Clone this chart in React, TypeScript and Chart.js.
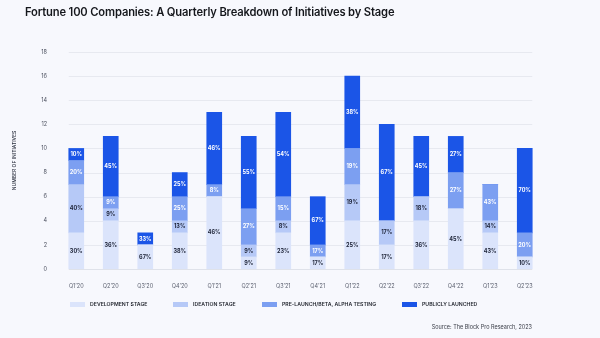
import React, { useEffect, useRef } from "react";
import { Chart, registerables } from "chart.js";

Chart.register(...registerables);

const quarters = ["Q1’20", "Q2’20", "Q3’20", "Q4’20", "Q1’21", "Q2’21", "Q3’21", "Q4’21", "Q1’22", "Q2’22", "Q3’22", "Q4’22", "Q1’23", "Q2’23"];
const development = [3, 4, 2, 3, 6, 1, 3, 1, 4, 2, 4, 5, 3, 1];
const ideation = [4, 1, 0, 1, 0, 1, 1, 0, 3, 2, 2, 0, 1, 0];
const preLaunch = [2, 1, 0, 2, 1, 3, 2, 1, 3, 0, 0, 3, 3, 2];
const launched = [1, 5, 1, 2, 6, 6, 7, 4, 6, 8, 5, 3, 0, 7];
const seriesNames = ["DEVELOPMENT STAGE", "IDEATION STAGE", "PRE-LAUNCH/BETA, ALPHA TESTING", "PUBLICLY LAUNCHED"];
const seriesColors = ["#dbe4fb", "#b6c9f7", "#7c9ff1", "#1b55e7"];
const labelColors = ["#1c2236", "#1c2236", "#ffffff", "#ffffff"];
const yMax = 18;
const yStep = 2;

const FONT = "Inter, 'DejaVu Sans', sans-serif";
const BG = "#f7f8fd";

const gridPlugin = {
  id: "customGrid",
  beforeDatasetsDraw(chart: any) {
    const ctx = chart.ctx;
    const yScale = chart.scales.y;
    const meta0 = chart.getDatasetMeta(0);
    const first = meta0.data[0];
    const last = meta0.data[meta0.data.length - 1];
    const x0 = first.x - first.width / 2;
    const x1 = last.x + last.width / 2;
    ctx.save();
    ctx.lineWidth = 1;
    yScale.ticks.forEach((t: any) => {
      const y = Math.round(yScale.getPixelForValue(t.value)) + 0.5;
      ctx.strokeStyle = t.value === 0 ? "#dfe2ea" : "#e7e9f0";
      ctx.beginPath();
      ctx.moveTo(x0, y);
      ctx.lineTo(x1, y);
      ctx.stroke();
    });
    ctx.restore();
  },
};

const pctPlugin = {
  id: "pctLabels",
  afterDatasetsDraw(chart: any) {
    const ctx = chart.ctx;
    const n = quarters.length;
    const all = [development, ideation, preLaunch, launched];
    ctx.save();
    ctx.font = `700 5.5px ${FONT}`;
    ctx.textAlign = "center";
    ctx.textBaseline = "middle";
    for (let d = 0; d < all.length; d++) {
      const meta = chart.getDatasetMeta(d);
      for (let i = 0; i < n; i++) {
        const v = all[d][i];
        if (!v) continue;
        const total = all.reduce((s, arr) => s + arr[i], 0);
        const el = meta.data[i];
        const yc = (el.y + el.base) / 2;
        ctx.fillStyle = labelColors[d];
        ctx.fillText(Math.round((v / total) * 100) + "%", el.x, yc);
      }
    }
    ctx.restore();
  },
};

export default function App() {
  const ref = useRef<HTMLCanvasElement>(null);
  useEffect(() => {
    document.body.style.margin = "0";
    document.body.style.background = BG;
    const data = [development, ideation, preLaunch, launched];
    const chart = new Chart(ref.current as HTMLCanvasElement, {
      type: "bar",
      data: {
        labels: quarters,
        datasets: data.map((arr, i) => ({
          label: seriesNames[i],
          data: arr,
          backgroundColor: seriesColors[i],
          borderWidth: 0,
          barThickness: 15,
        })),
      },
      options: {
        animation: false,
        responsive: false,
        maintainAspectRatio: false,
        layout: { padding: { left: 0, top: 52, right: 58, bottom: 49 } },
        plugins: {
          legend: { display: false },
          tooltip: { enabled: false },
          title: { display: false },
        },
        scales: {
          x: {
            stacked: true,
            offset: true,
            grid: { display: false },
            border: { display: false },
            ticks: {
              font: { family: FONT, size: 5.5 },
              color: "#5a5f6e",
              padding: 6,
              maxRotation: 0,
            },
            afterFit: (s: any) => {
              s.height = 20;
            },
          },
          y: {
            stacked: true,
            min: 0,
            max: yMax,
            grid: { display: false },
            border: { display: false },
            ticks: {
              stepSize: yStep,
              font: { family: FONT, size: 5.5 },
              color: "#4a4f5e",
              padding: 4,
            },
            title: {
              display: true,
              text: "NUMBER OF INITIATIVES",
              font: { family: FONT, size: 5, weight: "500" },
              color: "#2a2f3e",
              padding: { top: 11, bottom: 0 },
            },
            afterFit: (s: any) => {
              s.width = 59;
            },
          },
        },
      },
      plugins: [gridPlugin, pctPlugin],
    });
    return () => chart.destroy();
  }, []);

  const legendX = [70, 173, 262, 402];
  return (
    <div style={{ position: "relative", width: 600, height: 338, background: BG, fontFamily: FONT, overflow: "hidden" }}>
      <canvas ref={ref} width={600} height={338} style={{ position: "absolute", left: 0, top: 0 }} />
      <div style={{ position: "absolute", left: 25, top: 5, fontSize: 11.2, fontWeight: 600, color: "#15171c", letterSpacing: -0.15, whiteSpace: "nowrap" }}>
        Fortune 100 Companies: A Quarterly Breakdown of Initiatives by Stage
      </div>
      {seriesNames.map((name, i) => (
        <div key={name} style={{ position: "absolute", left: legendX[i], top: 300, display: "flex", alignItems: "center", whiteSpace: "nowrap" }}>
          <span style={{ display: "inline-block", width: 15, height: 5, background: seriesColors[i], marginRight: 5 }} />
          <span style={{ fontSize: 5.2, fontWeight: 600, color: "#23262f", lineHeight: "8px" }}>{name}</span>
        </div>
      ))}
      <div style={{ position: "absolute", right: 68, top: 324, fontSize: 5.5, color: "#3a3d47", whiteSpace: "nowrap" }}>
        Source: The Block Pro Research, 2023
      </div>
    </div>
  );
}
